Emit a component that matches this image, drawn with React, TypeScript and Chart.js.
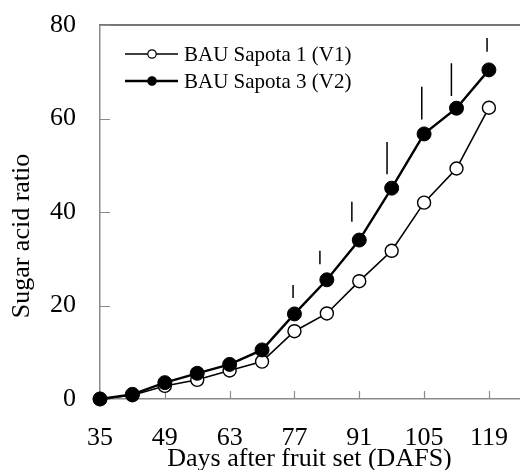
import { useEffect, useRef } from "react";
import { Chart, registerables } from "chart.js";

Chart.register(...registerables);

// Days after fruit set
const days = [35, 42, 49, 56, 63, 70, 77, 84, 91, 98, 105, 112, 119];
// Sugar acid ratio per variety
const v1Values = [0, 0.8, 2.8, 4.1, 6.1, 8.0, 14.5, 18.3, 25.2, 31.7, 42.0, 49.3, 62.3];
const v2Values = [0, 1.0, 3.5, 5.5, 7.4, 10.5, 18.2, 25.5, 34.0, 45.1, 56.7, 62.2, 70.4];
const seriesNames = ["BAU Sapota 1 (V1)", "BAU Sapota 3 (V2)"];

// LSD bars (position on the day axis, lower and upper ends)
const lsdDays = [76.7, 82.5, 89.4, 97.0, 104.5, 110.9, 118.6];
const lsdLow = [21.6, 28.8, 37.9, 48.1, 59.8, 64.8, 74.3];
const lsdHigh = [24.4, 31.7, 42.2, 55.0, 66.8, 71.8, 77.2];

const xTicks = [35, 49, 63, 77, 91, 105, 119];
const yTicks = [0, 20, 40, 60, 80];

const SERIF = "'Liberation Serif', 'Times New Roman', serif";
const AXIS_GREY = "#8a8a8a";

const decorPlugin = {
  id: "decor",
  beforeDatasetsDraw(chart: any) {
    const { ctx, chartArea, scales } = chart;
    const x = scales.x;
    const y = scales.y;
    ctx.save();
    // frame line along the top
    ctx.strokeStyle = "#4a4a4a";
    ctx.lineWidth = 1.5;
    ctx.beginPath();
    ctx.moveTo(chartArea.left, chartArea.top);
    ctx.lineTo(chartArea.right + 1, chartArea.top);
    ctx.stroke();
    // inward tick marks
    ctx.strokeStyle = AXIS_GREY;
    ctx.lineWidth = 1.2;
    ctx.beginPath();
    for (const v of xTicks) {
      const px = Math.round(x.getPixelForValue(v)) + 0.5;
      ctx.moveTo(px, chartArea.bottom);
      ctx.lineTo(px, chartArea.bottom - 8);
    }
    for (const v of yTicks) {
      const py = Math.round(y.getPixelForValue(v)) + 0.5;
      ctx.moveTo(chartArea.left, py);
      ctx.lineTo(chartArea.left + 10, py);
    }
    ctx.stroke();
    // LSD bars
    ctx.strokeStyle = "#000";
    ctx.lineWidth = 1.5;
    ctx.beginPath();
    lsdDays.forEach((d, i) => {
      const px = x.getPixelForValue(d);
      ctx.moveTo(px, y.getPixelForValue(lsdLow[i]));
      ctx.lineTo(px, y.getPixelForValue(lsdHigh[i]));
    });
    ctx.stroke();
    ctx.restore();
  },
  afterDraw(chart: any) {
    const { ctx } = chart;
    ctx.save();
    // y axis title
    ctx.translate(22, 236);
    ctx.rotate(-Math.PI / 2);
    ctx.font = `26px ${SERIF}`;
    ctx.fillStyle = "#000";
    ctx.textAlign = "center";
    ctx.textBaseline = "middle";
    ctx.fillText("Sugar acid ratio", 0, 0);
    ctx.restore();

    // legend
    ctx.save();
    const rows = [54, 81];
    chart.data.datasets.forEach((ds: any, i: number) => {
      const ly = rows[i];
      ctx.strokeStyle = ds.borderColor;
      ctx.lineWidth = ds.borderWidth;
      ctx.beginPath();
      ctx.moveTo(125, ly);
      ctx.lineTo(178, ly);
      ctx.stroke();
      ctx.beginPath();
      ctx.arc(152, ly, 4.2, 0, Math.PI * 2);
      ctx.fillStyle = ds.pointBackgroundColor;
      ctx.fill();
      ctx.lineWidth = 1.2;
      ctx.strokeStyle = ds.pointBorderColor;
      ctx.stroke();
      ctx.fillStyle = "#000";
      ctx.font = `21px ${SERIF}`;
      ctx.textAlign = "left";
      ctx.textBaseline = "middle";
      ctx.fillText(ds.label, 184, ly + 1);
    });
    ctx.restore();
  },
};

export default function App() {
  const canvasRef = useRef<HTMLCanvasElement | null>(null);

  useEffect(() => {
    if (!canvasRef.current) return;
    const chart = new Chart(canvasRef.current, {
      type: "line",
      data: {
        datasets: [
          {
            label: seriesNames[0],
            data: days.map((d, i) => ({ x: d, y: v1Values[i] })),
            borderColor: "#000",
            borderWidth: 1.6,
            pointRadius: 6.5,
            pointBorderWidth: 1.4,
            pointBackgroundColor: "#fff",
            pointBorderColor: "#000",
            order: 1,
          },
          {
            label: seriesNames[1],
            data: days.map((d, i) => ({ x: d, y: v2Values[i] })),
            borderColor: "#000",
            borderWidth: 2.4,
            pointRadius: 7,
            pointBorderWidth: 1,
            pointBackgroundColor: "#000",
            pointBorderColor: "#000",
            order: 0,
          },
        ],
      },
      options: {
        responsive: false,
        animation: false,
        clip: false,
        layout: { autoPadding: false, padding: { top: 25, right: 1, left: 0, bottom: 0 } },
        plugins: {
          legend: { display: false },
          tooltip: { enabled: false },
        },
        scales: {
          x: {
            type: "linear",
            min: 35,
            max: 125.5,
            afterBuildTicks: (s: any) => {
              s.ticks = xTicks.map((v) => ({ value: v }));
            },
            afterFit: (s: any) => {
              s.height = 71;
              s.paddingLeft = 0;
              s.paddingRight = 0;
            },
            grid: { display: false, drawTicks: false },
            border: { display: true, color: AXIS_GREY, width: 1.5 },
            ticks: {
              color: "#000",
              font: { family: SERIF, size: 26 },
              padding: 24,
              maxRotation: 0,
              autoSkip: false,
            },
            title: {
              display: true,
              text: "Days after fruit set (DAFS)",
              color: "#000",
              font: { family: SERIF, size: 26, lineHeight: 0.85 },
              padding: 0,
            },
          },
          y: {
            min: 0,
            max: 80,
            afterBuildTicks: (s: any) => {
              s.ticks = yTicks.map((v) => ({ value: v }));
            },
            afterFit: (s: any) => {
              s.width = 100;
              s.paddingTop = 0;
              s.paddingBottom = 0;
            },
            grid: { display: false, drawTicks: false },
            border: { display: true, color: AXIS_GREY, width: 1.5 },
            ticks: {
              color: "#000",
              font: { family: SERIF, size: 26 },
              padding: 24,
            },
          },
        },
      },
      plugins: [decorPlugin],
    });
    return () => chart.destroy();
  }, []);

  return (
    <div style={{ position: "fixed", left: 0, top: 0, width: 520, height: 470, background: "#fff" }}>
      <canvas ref={canvasRef} width={520} height={470} />
    </div>
  );
}
